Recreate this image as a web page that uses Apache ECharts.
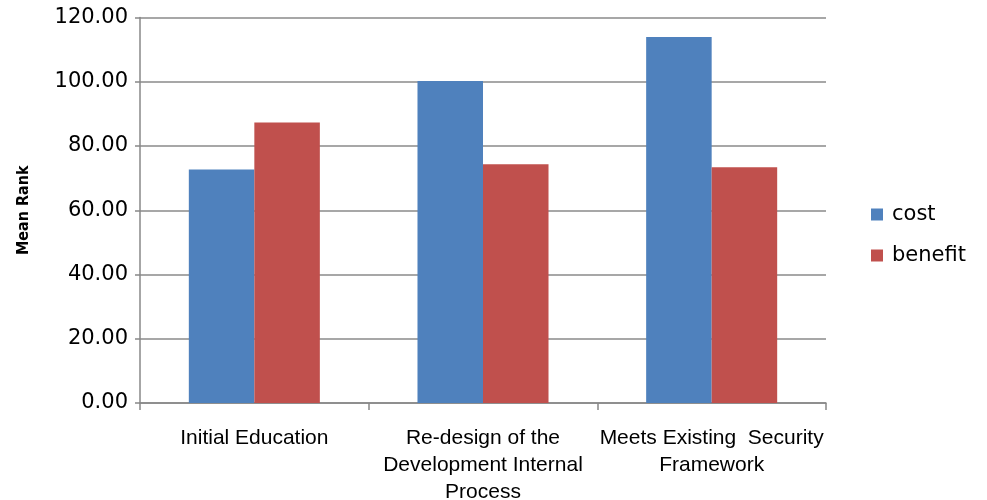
<!DOCTYPE html>
<html>
<head>
<meta charset="utf-8">
<script src="https://cdn.jsdelivr.net/npm/echarts@6/dist/echarts.min.js"></script>
<style>html,body{margin:0;padding:0;background:#fff;}#c{width:987px;height:500px;}</style>
</head>
<body>
<div id="c"></div>
<script>
const categories = ["Initial Education", "Re-design of the\nDevelopment Internal\nProcess", "Meets Existing  Security\nFramework"];
const costValues = [72.7, 100.2, 113.9];
const benefitValues = [87.3, 74.3, 73.4];
const yTicks = { min: 0, max: 120, interval: 20 };

const chart = echarts.init(document.getElementById('c'), null, { renderer: 'canvas' });
chart.setOption({
  animation: false,
  backgroundColor: '#fff',
  grid: { left: 140, right: 161, top: 17.5, bottom: 97, containLabel: false, outerBoundsMode: 'none' },
  legend: {
    orient: 'vertical', left: 866, top: 199,
    itemWidth: 12, itemHeight: 12, itemGap: 20, icon: 'rect',
    textStyle: { fontFamily: 'DejaVu Sans', fontSize: 21, color: '#000', padding: [0, 0, 0, 4] },
    data: ['cost', 'benefit']
  },
  xAxis: {
    type: 'category', data: categories,
    axisLine: { lineStyle: { color: '#888', width: 1.5 } },
    axisTick: { show: true, length: 7, lineStyle: { color: '#888', width: 1.5 } },
    axisLabel: { margin: 22, fontFamily: 'Liberation Sans', fontSize: 21, color: '#000', lineHeight: 27, interval: 0 }
  },
  yAxis: {
    type: 'value', min: yTicks.min, max: yTicks.max, interval: yTicks.interval,
    name: 'Mean Rank', nameLocation: 'middle', nameGap: 108, nameRotate: 90,
    nameTextStyle: { fontFamily: 'DejaVu Sans Condensed', fontWeight: 'bold', fontSize: 16, color: '#000' },
    axisLine: { show: true, lineStyle: { color: '#888', width: 1.5 } },
    axisTick: { show: true, length: 5, lineStyle: { color: '#888', width: 1.5 } },
    axisLabel: { margin: 12, fontFamily: 'DejaVu Sans', fontSize: 21, color: '#000', formatter: v => v.toFixed(2) },
    splitLine: { show: true, lineStyle: { color: '#8a8a8a', width: 1.5 } }
  },
  series: [
    { name: 'cost', type: 'bar', data: costValues, itemStyle: { color: '#4F81BD' }, barGap: '0%', barCategoryGap: '42.7%' },
    { name: 'benefit', type: 'bar', data: benefitValues, itemStyle: { color: '#C0504D' }, barGap: '0%', barCategoryGap: '42.7%' }
  ]
});
</script>
</body>
</html>
